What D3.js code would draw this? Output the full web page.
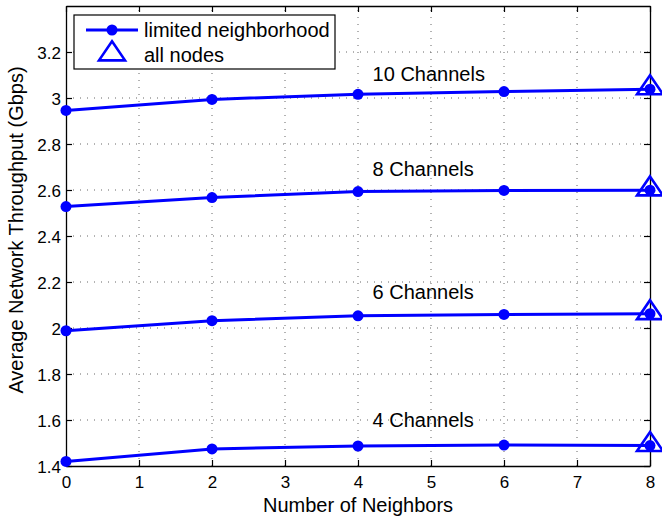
<!DOCTYPE html>
<html><head><meta charset="utf-8">
<script src="https://cdn.jsdelivr.net/npm/d3@7"></script>
<style>body{margin:0;background:#fff}svg{display:block}text{font-family:"Liberation Sans",Arial,sans-serif}</style>
</head><body>
<svg id="c" width="662" height="519"></svg>
<script>
// Throughput vs. neighbor count, one curve per channel count
const neighbors = [0, 2, 4, 6, 8];
const ch10 = [2.946, 2.994, 3.016, 3.028, 3.038];
const ch8  = [2.528, 2.567, 2.593, 2.598, 2.599];
const ch6  = [1.988, 2.032, 2.053, 2.059, 2.062];
const ch4  = [1.420, 1.474, 1.487, 1.491, 1.489];
const allNodesX = [8, 8, 8, 8];
const allNodesY = [3.044, 2.604, 2.066, 1.493];
const seriesLabels = ["10 Channels", "8 Channels", "6 Channels", "4 Channels"];
const labelPos = [[4.2, 3.104], [4.2, 2.69], [4.2, 2.158], [4.2, 1.60]];
const xTicks = [0, 1, 2, 3, 4, 5, 6, 7, 8];
const yTicks = [1.4, 1.6, 1.8, 2.0, 2.2, 2.4, 2.6, 2.8, 3.0, 3.2];

const series = [ch10, ch8, ch6, ch4];
const blue = "#0000ff";
const W = 662, H = 519;
const m = {l: 66, r: 12, t: 6, b: 53};
const svg = d3.select("#c");
const x = d3.scaleLinear().domain([0, 8]).range([m.l, W - m.r]);
const y = d3.scaleLinear().domain([1.4, 3.4]).range([H - m.b, m.t]);

// dotted grid
const g = svg.append("g").attr("stroke", "#666").attr("stroke-width", 1)
  .attr("stroke-dasharray", "1,6");
g.selectAll(".gx").data(xTicks.slice(1, -1)).join("line")
  .attr("x1", d => x(d)).attr("x2", d => x(d)).attr("y1", y.range()[0]).attr("y2", y.range()[1]);
g.selectAll(".gy").data(yTicks.slice(1)).join("line")
  .attr("y1", d => y(d)).attr("y2", d => y(d)).attr("x1", x.range()[0]).attr("x2", x.range()[1]);

// axes with inward ticks on all four sides
const fmt = d => String(+d.toFixed(1));
svg.append("g").attr("transform", `translate(0,${y.range()[0]})`)
  .call(d3.axisBottom(x).tickValues(xTicks).tickSizeInner(-6).tickSizeOuter(0).tickPadding(10))
  .call(a => a.selectAll("text").attr("font-size", 17).attr("fill", "#000"));
svg.append("g").attr("transform", `translate(0,${y.range()[1]})`)
  .call(d3.axisTop(x).tickValues(xTicks).tickSizeInner(-6).tickSizeOuter(0).tickFormat(""));
svg.append("g").attr("transform", `translate(${x.range()[0]},0)`)
  .call(d3.axisLeft(y).tickValues(yTicks).tickSizeInner(-6).tickSizeOuter(0).tickPadding(5).tickFormat(fmt))
  .call(a => a.selectAll("text").attr("font-size", 17).attr("fill", "#000").attr("dy", "0.4em"));
svg.append("g").attr("transform", `translate(${x.range()[1]},0)`)
  .call(d3.axisRight(y).tickValues(yTicks).tickSizeInner(-6).tickSizeOuter(0).tickFormat(""));
svg.selectAll(".domain").attr("stroke", "#000").attr("stroke-width", 1.3);
svg.selectAll(".tick line").attr("stroke", "#000").attr("stroke-width", 1.2);

// curves with filled circle markers
const line = d3.line().x((d, i) => x(neighbors[i])).y(d => y(d));
series.forEach(s => {
  svg.append("path").datum(s).attr("d", line).attr("fill", "none")
    .attr("stroke", blue).attr("stroke-width", 3);
  svg.selectAll(null).data(s).join("circle")
    .attr("cx", (d, i) => x(neighbors[i])).attr("cy", d => y(d)).attr("r", 5.5).attr("fill", blue);
});

// open triangle marker, centred on its centroid
const tw = 26, th = 19;
const triPath = `M0,${-2 * th / 3}L${tw / 2},${th / 3}L${-tw / 2},${th / 3}Z`;
svg.selectAll(".tri").data(allNodesY).join("path")
  .attr("transform", (d, i) => `translate(${x(allNodesX[i])},${y(d)})`)
  .attr("d", triPath).attr("fill", "none").attr("stroke", blue).attr("stroke-width", 2.6);

// curve annotations
svg.selectAll(".lab").data(seriesLabels).join("text")
  .attr("x", (d, i) => x(labelPos[i][0])).attr("y", (d, i) => y(labelPos[i][1]))
  .attr("dy", "0.35em").attr("font-size", 20).text(d => d);

// axis titles
svg.append("text").attr("x", (x.range()[0] + x.range()[1]) / 2).attr("y", 511.5)
  .attr("text-anchor", "middle").attr("font-size", 20).text("Number of Neighbors");
svg.append("text").attr("transform", "translate(23,230) rotate(-90)")
  .attr("text-anchor", "middle").attr("font-size", 20).text("Average Network Throughput (Gbps)");

// legend
const lg = svg.append("g");
lg.append("rect").attr("x", 74).attr("y", 15).attr("width", 261).attr("height", 54)
  .attr("fill", "#fff").attr("stroke", "#000").attr("stroke-width", 1.2);
lg.append("line").attr("x1", 86).attr("x2", 138).attr("y1", 30).attr("y2", 30)
  .attr("stroke", blue).attr("stroke-width", 3);
lg.append("circle").attr("cx", 112).attr("cy", 30).attr("r", 5.5).attr("fill", blue);
lg.append("path").attr("transform", "translate(112,54)").attr("d", triPath)
  .attr("fill", "none").attr("stroke", blue).attr("stroke-width", 2.6);
lg.append("text").attr("x", 144).attr("y", 36.5).attr("font-size", 20).text("limited neighborhood");
lg.append("text").attr("x", 144).attr("y", 61.5).attr("font-size", 20).text("all nodes");
</script>
</body></html>
